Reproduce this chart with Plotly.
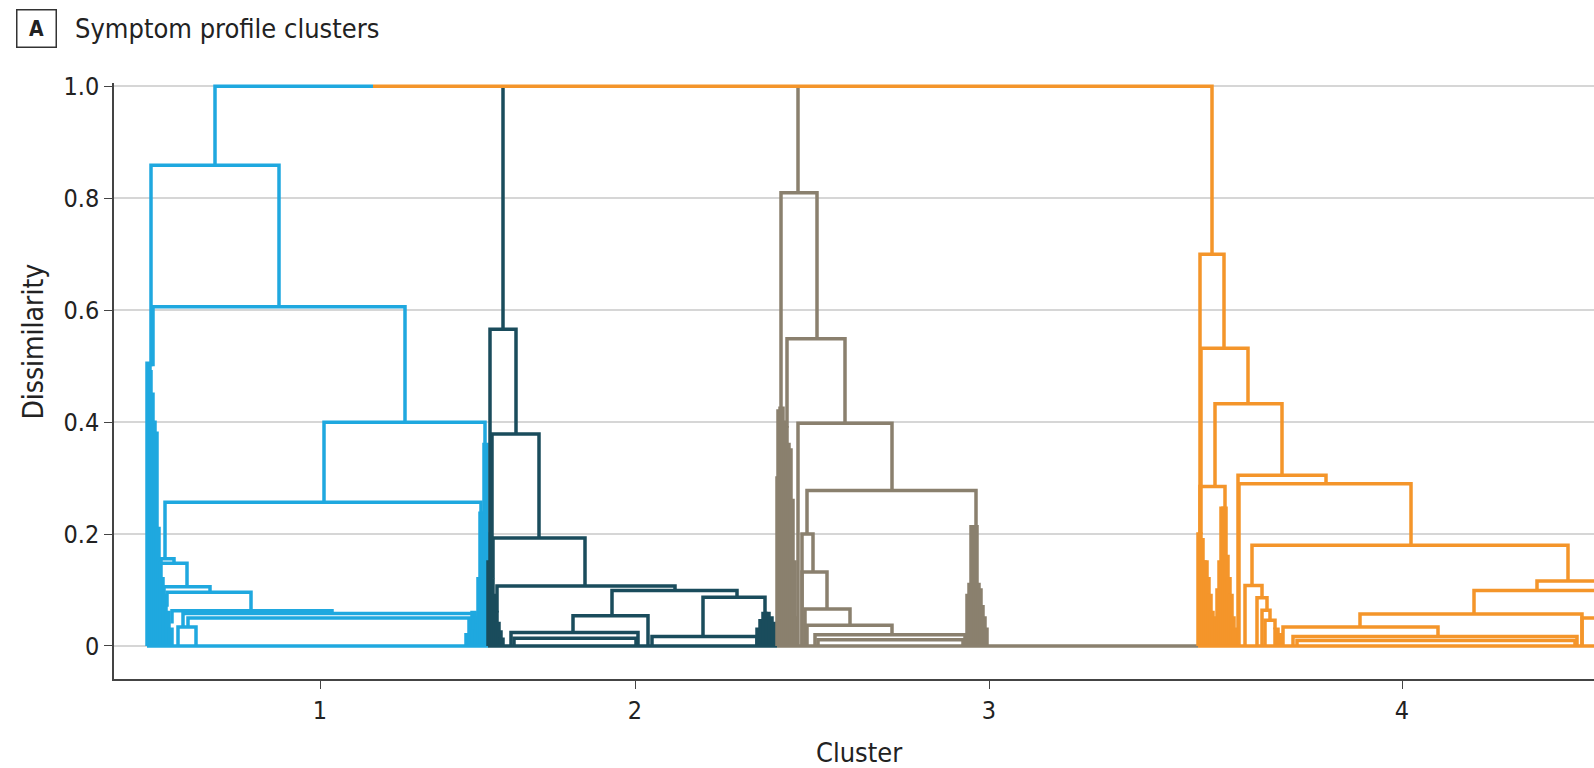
import plotly.graph_objects as go

# ---------------- data (x in leaf-order units, y = dissimilarity) ----------------
cluster_names = ["1", "2", "3", "4"]
cluster_tick_pos = [20.6, 52.1, 87.5, 128.8]
y_tick_vals = [0, 0.2, 0.4, 0.6, 0.8, 1.0]
y_tick_text = ["0", "0.2", "0.4", "0.6", "0.8", "1.0"]

# Cluster 1 links: left leaf pos, right leaf pos, merge height, left child height, right child height
c1_xl = [10.1, 3.7, 3.9, 21.0, 5.1, 4.4, 4.6, 5.0, 5.3, 5.8, 6.9, 7.4, 6.4, 3.3]
c1_xr = [25.9, 16.5, 29.1, 37.1, 36.7, 6.0, 7.3, 9.6, 13.7, 21.8, 36.1, 35.9, 8.2, 37.4]
c1_h = [1.0, 0.859, 0.606, 0.400, 0.257, 0.156, 0.148, 0.106, 0.096, 0.063, 0.058, 0.050, 0.034, 0.0]
c1_bl = [0.859, 0.50, 0.50, 0.257, 0.156, 0.12, 0.10, 0.08, 0.07, 0.04, 0.034, 0.034, 0.0, 0.0]
c1_br = [1.0, 0.606, 0.400, 0.237, 0.237, 0.148, 0.106, 0.096, 0.063, 0.058, 0.04, 0.03, 0.0, 0.0]
# Cluster 1 dense leaf groups
c1_mxl = [3.3, 3.4, 3.6, 3.8, 4.0, 4.2, 4.4, 4.6, 4.9, 5.2, 5.5,
          35.2, 35.5, 35.8, 36.1, 36.4, 36.6, 36.8, 37.0, 37.2]
c1_mxr = [3.6, 3.7, 3.9, 4.1, 4.3, 4.5, 4.7, 4.9, 5.2, 5.5, 5.8,
          35.5, 35.8, 36.1, 36.4, 36.7, 36.9, 37.1, 37.3, 37.4]
c1_mh = [0.505, 0.49, 0.45, 0.40, 0.38, 0.21, 0.155, 0.12, 0.09, 0.06, 0.03,
         0.02, 0.045, 0.06, 0.05, 0.12, 0.237, 0.237, 0.36, 0.20]

# Cluster 2
c2_xl = [38.9, 37.6, 37.8, 37.9, 38.3, 49.8, 58.9, 53.8, 45.9, 39.7, 40.0, 37.4]
c2_xr = [38.9, 40.2, 42.5, 47.1, 56.1, 62.3, 65.1, 64.3, 53.4, 52.4, 52.2, 66.3]
c2_h = [1.0, 0.566, 0.379, 0.193, 0.107, 0.099, 0.087, 0.017, 0.054, 0.024, 0.014, 0.0]
c2_bl = [0.566, 0.15, 0.15, 0.12, 0.06, 0.054, 0.017, 0.0, 0.024, 0.0, 0.0, 0.0]
c2_br = [1.0, 0.379, 0.193, 0.107, 0.099, 0.087, 0.058, 0.0, 0.0, 0.0, 0.0, 0.0]
c2_mxl = [37.4, 37.6, 37.8, 38.0, 38.2, 38.4, 38.6,
          64.3, 64.6, 64.9, 65.2, 65.5, 65.8, 66.1]
c2_mxr = [37.7, 37.9, 38.1, 38.3, 38.5, 38.7, 38.9,
          64.6, 64.9, 65.2, 65.5, 65.8, 66.1, 66.3]
c2_mh = [0.15, 0.118, 0.09, 0.06, 0.04, 0.025, 0.012,
         0.03, 0.045, 0.058, 0.058, 0.05, 0.04, 0.02]

# Cluster 3
c3_xl = [68.4, 66.7, 67.3, 68.4, 69.3, 68.8, 68.8, 69.1, 69.3, 70.1, 70.4, 66.3]
c3_xr = [68.4, 70.3, 73.1, 77.8, 86.2, 69.9, 71.3, 73.6, 77.8, 85.1, 84.9, 108.4]
c3_h = [1.0, 0.810, 0.549, 0.398, 0.278, 0.200, 0.132, 0.066, 0.037, 0.020, 0.011, 0.0]
c3_bl = [0.81, 0.42, 0.39, 0.0, 0.20, 0.0, 0.0, 0.0, 0.0, 0.0, 0.0, 0.0]
c3_br = [1.0, 0.549, 0.398, 0.278, 0.213, 0.132, 0.066, 0.037, 0.020, 0.0, 0.0, 0.0]
c3_mxl = [66.3, 66.4, 66.6, 66.8, 67.0, 67.2, 67.4, 67.6, 67.8, 68.0,
          85.3, 85.5, 85.7, 86.0, 86.2, 86.4, 86.6, 86.8, 87.0]
c3_mxr = [66.6, 66.7, 66.9, 67.1, 67.3, 67.5, 67.7, 67.9, 68.1, 68.3,
          85.6, 85.8, 86.0, 86.3, 86.5, 86.7, 86.9, 87.1, 87.3]
c3_mh = [0.30, 0.42, 0.425, 0.40, 0.39, 0.36, 0.35, 0.26, 0.15, 0.05,
         0.09, 0.11, 0.213, 0.213, 0.11, 0.10, 0.07, 0.05, 0.03]

# Cluster 4 (first link is the top-level join at dissimilarity 1.0)
c4_xl = [25.9, 108.6, 108.7, 110.1, 112.4, 112.5, 113.8, 142.3, 136.0, 124.6, 116.9,
         117.9, 118.3, 113.1, 114.3, 114.8, 115.1, 108.6, 146.8, 108.4]
c4_xr = [109.8, 111.0, 113.4, 116.8, 121.2, 129.7, 145.4, 148.5, 148.6, 146.8, 132.4,
         146.3, 146.1, 114.8, 115.3, 115.6, 116.1, 111.1, 148.6, 148.6]
c4_h = [1.0, 0.700, 0.532, 0.433, 0.305, 0.290, 0.180, 0.116, 0.099, 0.057, 0.034,
        0.017, 0.010, 0.108, 0.086, 0.064, 0.046, 0.285, 0.050, 0.0]
c4_bl = [1.0, 0.20, 0.20, 0.285, 0.0, 0.0, 0.108, 0.099, 0.057, 0.034, 0.0,
         0.0, 0.0, 0.0, 0.0, 0.0, 0.0, 0.20, 0.0, 0.0]
c4_br = [0.700, 0.532, 0.433, 0.305, 0.290, 0.180, 0.116, 0.05, 0.05, 0.0, 0.017,
         0.0, 0.0, 0.086, 0.064, 0.046, 0.03, 0.246, 0.0, 0.0]
c4_mxl = [108.4, 108.6, 108.8, 109.0, 109.2, 109.4, 109.6, 109.8, 110.1, 110.3, 110.5,
          110.7, 110.9, 111.1, 111.3, 111.5, 111.7, 111.9, 116.1, 116.4]
c4_mxr = [108.7, 108.9, 109.1, 109.3, 109.5, 109.7, 109.9, 110.1, 110.4, 110.6, 110.8,
          111.0, 111.2, 111.4, 111.6, 111.8, 112.0, 112.2, 116.4, 116.7]
c4_mh = [0.20, 0.19, 0.15, 0.15, 0.12, 0.09, 0.06, 0.03, 0.05, 0.10, 0.15,
         0.246, 0.246, 0.16, 0.12, 0.09, 0.05, 0.03, 0.03, 0.02]

colors = ["#1fa8df", "#1a4c5c", "#8a806e", "#f4952a"]

clusters = [
    (c1_xl, c1_xr, c1_h, c1_bl, c1_br, c1_mxl, c1_mxr, c1_mh),
    (c2_xl, c2_xr, c2_h, c2_bl, c2_br, c2_mxl, c2_mxr, c2_mh),
    (c3_xl, c3_xr, c3_h, c3_bl, c3_br, c3_mxl, c3_mxr, c3_mh),
    (c4_xl, c4_xr, c4_h, c4_bl, c4_br, c4_mxl, c4_mxr, c4_mh),
]

FONT = "DejaVu Sans Condensed, Liberation Sans Narrow, Arial Narrow, Liberation Sans, sans-serif"

fig = go.Figure()
for name, col, (xl, xr, h, bl, br, mxl, mxr, mh) in zip(cluster_names, colors, clusters):
    xs, ys = [], []
    for a, b, t in zip(mxl, mxr, mh):
        xs += [a, a, b, b, None]
        ys += [0, t, t, 0, None]
    for a, b, t, l, r in zip(xl, xr, h, bl, br):
        xs += [a, a, b, b, None]
        ys += [l, t, t, r, None]
    fig.add_trace(go.Scatter(x=xs, y=ys, mode="lines", name="Cluster " + name,
                             line=dict(color=col, width=3.5), hoverinfo="skip",
                             showlegend=False))

fig.update_layout(
    width=1594, height=768,
    margin=dict(l=114, r=0, t=83, b=89),
    paper_bgcolor="white", plot_bgcolor="white",
    font=dict(family=FONT, size=25, color="#222222"),
    xaxis=dict(range=[0, 148], tickvals=cluster_tick_pos, ticktext=cluster_names,
               showgrid=False, zeroline=False, showline=True, linecolor="#444444",
               linewidth=1.5, ticks="outside", ticklen=8, tickcolor="#444444",
               tickfont=dict(size=25)),
    yaxis=dict(range=[-0.059, 1.006], tickvals=y_tick_vals, ticktext=y_tick_text,
               showgrid=True, gridcolor="#d6d6d6", gridwidth=1.5, zeroline=False,
               showline=True, linecolor="#444444", linewidth=1.5, ticks="outside",
               ticklen=8, tickcolor="#444444", tickfont=dict(size=25)),
    annotations=[
        dict(text="<b>A</b>", xref="paper", yref="paper", x=-0.0527, y=1.092,
             xanchor="center", yanchor="middle", showarrow=False,
             font=dict(size=21, color="#222222"), bordercolor="#333333",
             borderwidth=1.5, width=36, height=34),
        dict(text="Symptom profile clusters", xref="paper", yref="paper",
             x=-0.0277, y=1.092, xanchor="left", yanchor="middle", showarrow=False,
             font=dict(size=27, color="#222222")),
        dict(text="Dissimilarity", xref="paper", yref="paper", x=-0.0541, y=0.566,
             xanchor="center", yanchor="middle", textangle=-90, showarrow=False,
             font=dict(size=28, color="#222222")),
        dict(text="Cluster", xref="paper", yref="paper", x=0.5037, y=-0.124,
             xanchor="center", yanchor="middle", showarrow=False,
             font=dict(size=27, color="#222222")),
    ],
)

fig.write_html("out.html", config={"displayModeBar": False},
               post_script="document.body.style.margin='0';document.body.style.overflow='hidden';")
